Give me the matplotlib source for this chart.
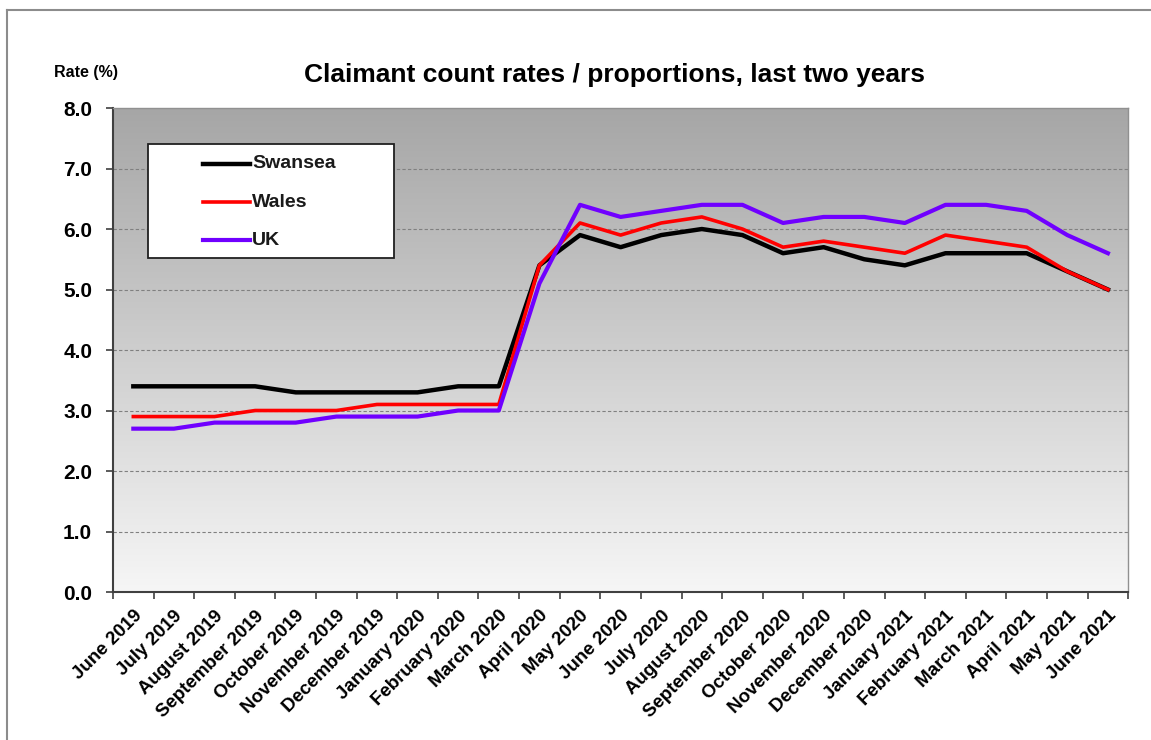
import matplotlib
matplotlib.use("Agg")
import matplotlib.pyplot as plt
import numpy as np
from matplotlib.lines import Line2D
from matplotlib.patches import Rectangle
from matplotlib.colors import LinearSegmentedColormap

months = ["June 2019", "July 2019", "August 2019", "September 2019", "October 2019",
          "November 2019", "December 2019", "January 2020", "February 2020", "March 2020",
          "April 2020", "May 2020", "June 2020", "July 2020", "August 2020",
          "September 2020", "October 2020", "November 2020", "December 2020", "January 2021",
          "February 2021", "March 2021", "April 2021", "May 2021", "June 2021"]
swansea = [3.4, 3.4, 3.4, 3.4, 3.3, 3.3, 3.3, 3.3, 3.4, 3.4, 5.4, 5.9, 5.7, 5.9, 6.0,
           5.9, 5.6, 5.7, 5.5, 5.4, 5.6, 5.6, 5.6, 5.3, 5.0]
wales = [2.9, 2.9, 2.9, 3.0, 3.0, 3.0, 3.1, 3.1, 3.1, 3.1, 5.4, 6.1, 5.9, 6.1, 6.2,
         6.0, 5.7, 5.8, 5.7, 5.6, 5.9, 5.8, 5.7, 5.3, 5.0]
uk = [2.7, 2.7, 2.8, 2.8, 2.8, 2.9, 2.9, 2.9, 3.0, 3.0, 5.1, 6.4, 6.2, 6.3, 6.4,
      6.4, 6.1, 6.2, 6.2, 6.1, 6.4, 6.4, 6.3, 5.9, 5.6]
series_names = ["Swansea", "Wales", "UK"]
series_colors = ["black", "#ff0000", "#7000ff"]
series_widths = [3.2, 2.6, 3.0]
yticks = [0.0, 1.0, 2.0, 3.0, 4.0, 5.0, 6.0, 7.0, 8.0]

plt.rcParams['font.family'] = ['Liberation Sans', 'DejaVu Sans']

fig = plt.figure(figsize=(11.51, 7.40), dpi=100)
ax = fig.add_axes([0.0982, 0.2, 0.882, 0.654])

n = len(months)
x = np.arange(n)
ax.set_xlim(-0.5, n - 0.5)
ax.set_ylim(0, 8)

# gradient background
grad = np.linspace(0, 1, 256).reshape(-1, 1)
cmap = LinearSegmentedColormap.from_list("g", ["#f6f6f6", "#a6a6a6"])
ax.imshow(grad, extent=[-0.5, n - 0.5, 0, 8], origin="lower", aspect="auto",
          cmap=cmap, zorder=0)

for yv in yticks[1:-1]:
    ax.axhline(yv, color="#808080", lw=0.8, ls=(0, (3, 2)), zorder=1)

data = [swansea, wales, uk]
for i, (vals, name, col, lw) in enumerate(zip(data, series_names, series_colors, series_widths)):
    ax.plot(x, vals, color=col, lw=lw, label=name, zorder=3 + i)

ax.set_yticks(yticks)
ax.set_yticklabels([f"{v:.1f}" for v in yticks], fontsize=15, fontweight="bold")
ax.set_xticks(np.arange(-0.5, n, 1.0), minor=False)
ax.set_xticklabels([])
ax.set_xticks(x, minor=True)
ax.set_xticklabels(months, minor=True, rotation=45, ha="right",
                   rotation_mode="anchor", fontsize=13.5, fontweight="bold")
ax.tick_params(axis="x", which="minor", length=0, pad=11)
ax.tick_params(axis="x", which="major", length=5, width=1.2, color="#404040")
ax.tick_params(axis="y", length=5, width=1.2, color="#404040", pad=10)

for s in ["left", "bottom"]:
    ax.spines[s].set_linewidth(1.5)
    ax.spines[s].set_color("#404040")
for s in ["top", "right"]:
    ax.spines[s].set_linewidth(1.0)
    ax.spines[s].set_color("#909090")

# legend box (drawn manually to match the original layout)
lx0, lx1, ly0, ly1 = 0.0345, 0.277, 0.69, 0.926
ax.add_patch(Rectangle((lx0, ly0), lx1 - lx0, ly1 - ly0, transform=ax.transAxes,
                       facecolor="white", edgecolor="#202020", lw=1.3, zorder=10))
row_y = [0.885, 0.805, 0.727]
for name, col, lw, yy in zip(series_names, series_colors, series_widths, row_y):
    ax.add_line(Line2D([0.089, 0.135], [yy, yy], transform=ax.transAxes,
                       color=col, lw=lw, zorder=11))
    ax.text(0.137, yy, name, transform=ax.transAxes, ha="left", va="center",
            fontsize=14, fontweight="bold", color="#1a1a1a", zorder=12)

fig.text(0.534, 0.898, "Claimant count rates / proportions, last two years",
         ha="center", va="center", fontsize=19, fontweight="bold")
fig.text(0.047, 0.902, "Rate (%)", ha="left", va="center", fontsize=11.5,
         fontweight="bold")

# outer frame (top and left edges visible)
fig.add_artist(Line2D([0.006, 1.0], [0.986, 0.986], transform=fig.transFigure,
                      color="#8c8c8c", lw=1.5))
fig.add_artist(Line2D([0.006, 0.006], [0.0, 0.986], transform=fig.transFigure,
                      color="#8c8c8c", lw=1.5))

fig.savefig("out.png", dpi=100)
